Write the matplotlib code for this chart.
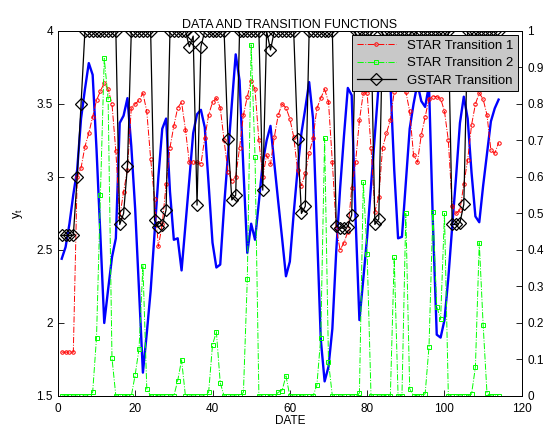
import numpy as np
import matplotlib
matplotlib.use('Agg')
import matplotlib.pyplot as plt

plt.rcParams['font.family'] = ['Liberation Sans', 'DejaVu Sans']
plt.rcParams['mathtext.fontset'] = 'custom'
plt.rcParams['mathtext.rm'] = 'Liberation Sans'

# ---------------- data ----------------
dates = np.arange(1, 115)

# observed series y_t (left axis)
y_t = [2.44, 2.52, 2.68, 2.88, 3.05, 3.40, 3.60, 3.78, 3.70, 3.19,
       2.60, 2.00, 2.23, 2.45, 2.58, 3.37, 3.42, 3.54, 3.21, 2.78,
       2.22, 1.66, 1.93, 2.22, 2.61, 3.00, 3.33, 3.40, 2.90, 2.57,
       2.58, 2.36, 2.67, 2.98, 3.30, 3.43, 3.46, 3.34, 2.95, 2.55,
       2.38, 2.40, 2.80, 3.15, 3.50, 3.84, 3.66, 3.05, 2.48, 2.68,
       2.57, 2.83, 3.10, 3.25, 3.35, 3.09, 2.83, 2.58, 2.32, 2.42,
       2.75, 3.05, 3.30, 3.47, 3.65, 3.40, 2.65, 1.89, 1.60, 1.70,
       1.96, 2.49, 2.92, 3.28, 3.61, 3.56, 2.72, 2.02, 2.30, 2.59,
       2.94, 3.29, 3.64, 3.88, 3.95, 3.65, 3.05, 2.58, 2.59, 2.96,
       3.33, 3.50, 3.64, 3.52, 3.48, 3.63, 2.69, 1.92, 1.90, 2.02,
       2.31, 2.66, 3.00, 3.37, 3.55, 3.40, 3.03, 2.73, 2.69, 2.94,
       3.16, 3.38, 3.47, 3.53]

# STAR transition 1 (right axis)
star1 = [0.12, 0.12, 0.12, 0.12, 0.60, 0.625, 0.683, 0.72, 0.765, 0.81,
         0.835, 0.858, 0.84, 0.80, 0.67, 0.49, 0.56, 0.62, 0.79, 0.80,
         0.81, 0.83, 0.78, 0.65, 0.54, 0.41, 0.47, 0.58, 0.68, 0.74,
         0.79, 0.805, 0.73, 0.64, 0.64, 0.64, 0.635, 0.707, 0.77, 0.805,
         0.816, 0.79, 0.70, 0.615, 0.59, 0.60, 0.68, 0.77, 0.82, 0.864,
         0.84, 0.70, 0.60, 0.66, 0.635, 0.71, 0.77, 0.80, 0.79, 0.76,
         0.71, 0.62, 0.576, 0.61, 0.665, 0.706, 0.788, 0.816, 0.84, 0.806,
         0.64, 0.46, 0.40, 0.42, 0.45, 0.57, 0.64, 0.755, 0.83, 0.83,
         0.68, 0.505, 0.546, 0.68, 0.72, 0.756, 0.834, 0.84, 0.84, 0.834,
         0.78, 0.66, 0.64, 0.715, 0.764, 0.815, 0.82, 0.82, 0.815, 0.78,
         0.70, 0.52, 0.50, 0.51, 0.58, 0.647, 0.742, 0.80, 0.83, 0.813,
         0.77, 0.674, 0.665, 0.694]

# STAR transition 2 (right axis)
star2 = [0.0, 0.0, 0.0, 0.0, 0.0, 0.0, 0.0, 0.0, 0.01, 0.16,
         0.55, 0.925, 0.815, 0.104, 0.0, 0.0, 0.0, 0.0, 0.0, 0.058,
         0.13, 0.357, 0.02, 0.0, 0.0, 0.0, 0.0, 0.0, 0.0, 0.0,
         0.042, 0.099, 0.0, 0.0, 0.0, 0.0, 0.0, 0.0, 0.01, 0.14,
         0.176, 0.036, 0.0, 0.0, 0.0, 0.0, 0.0, 0.01, 0.32, 0.962,
         0.656, 0.0, 0.0, 0.0, 0.0, 0.0, 0.01, 0.015, 0.055, 0.0,
         0.0, 0.0, 0.0, 0.0, 0.0, 0.0, 0.03, 0.16, 0.706, 0.094,
         0.0, 0.0, 0.0, 0.0, 0.0, 0.0, 0.0, 0.008, 0.585, 0.39,
         0.0, 0.0, 0.0, 0.0, 0.0, 0.0, 0.38, 0.0, 0.0, 0.50,
         0.02, 0.0, 0.0, 0.0, 0.006, 0.135, 0.503, 0.245, 0.21, 0.50,
         0.0, 0.0, 0.0, 0.0, 0.0, 0.0, 0.005, 0.079, 0.42, 0.195,
         0.007, 0.0, 0.0, 0.0]

# GSTAR transition (right axis)
gstar = [0.44, 0.44, 0.44, 0.44, 0.60, 0.80, 1.0, 1.0, 1.0, 1.0,
         1.0, 1.0, 1.0, 1.0, 1.0, 0.47, 0.50, 0.63, 1.0, 1.0,
         1.0, 1.0, 1.0, 1.0, 0.482, 0.464, 0.468, 0.51, 1.0, 1.0,
         1.0, 1.0, 1.0, 0.957, 0.986, 0.523, 0.957, 1.0, 1.0, 1.0,
         1.0, 1.0, 1.0, 0.703, 0.537, 0.55, 1.0, 1.0, 1.0, 1.0,
         1.0, 1.0, 0.564, 1.0, 0.948, 1.0, 1.0, 1.0, 1.0, 1.0,
         1.0, 0.705, 0.50, 0.52, 1.0, 1.0, 1.0, 1.0, 1.0, 1.0,
         1.0, 0.466, 0.46, 0.46, 0.464, 0.496, 1.0, 1.0, 1.0, 1.0,
         1.0, 0.47, 0.485, 1.0, 1.0, 1.0, 1.0, 1.0, 1.0, 1.0,
         1.0, 0.97, 1.0, 1.0, 1.0, 1.0, 1.0, 1.0, 1.0, 1.0,
         1.0, 0.47, 0.47, 0.475, 0.525, 1.0, 1.0, 1.0, 1.0, 1.0,
         1.0, 1.0, 1.0, 1.0]

# ---------------- plot (plotyy style) ----------------
fig = plt.figure(figsize=(5.51, 4.34), dpi=100)
ax1 = fig.add_axes([0.105, 0.0876, 0.842, 0.841])
ax2 = ax1.twinx()

ax1.plot(dates, y_t, color=(0, 0, 1), lw=1.7)
ax1.set_xlim(0, 120)
ax1.set_ylim(1.5, 4)
ax1.set_xticks(np.arange(0, 121, 20))
ax1.set_yticks([1.5, 2, 2.5, 3, 3.5, 4])
ax1.set_yticklabels(['1.5', '2', '2.5', '3', '3.5', '4'])
ax1.set_xlabel('DATE', fontsize=8.5, labelpad=0)
ax1.set_ylabel(r'$\mathregular{y_t}$', fontsize=9, labelpad=8)
ax1.set_title('DATA AND TRANSITION FUNCTIONS', fontsize=9, pad=2)

ax2.plot(dates, star1, '-.', color='red', lw=0.7, marker='o', ms=2.5,
         mfc='none', mew=0.7, label='STAR Transition 1')
ax2.plot(dates, star2, '-.', color=(0, 1, 0), lw=0.7, marker='s', ms=3.5,
         mfc='none', mew=0.7, label='STAR Transition 2')
ax2.plot(dates, gstar, '-', color='black', lw=0.9, marker='D', ms=6.3,
         mfc='none', mew=0.9, label='GSTAR Transition')
ax2.set_ylim(0, 1)
ax2.set_yticks(np.arange(0, 1.01, 0.1))
ax2.set_yticklabels(['0', '0.1', '0.2', '0.3', '0.4', '0.5', '0.6', '0.7', '0.8', '0.9', '1'])

for a in (ax1, ax2):
    a.tick_params(direction='in', length=4, width=0.6, labelsize=8.5)
    for s in a.spines.values():
        s.set_linewidth(0.7)
ax1.tick_params(axis='x', pad=5)
ax2.tick_params(axis='y', pad=4)

leg = ax2.legend(loc='upper right', fontsize=9.5, fancybox=False, framealpha=1,
                 edgecolor='black', facecolor='#c8c8c8', borderaxespad=0.3,
                 handlelength=3.0, borderpad=0.35, labelspacing=0.4)
leg.get_frame().set_linewidth(0.7)

fig.savefig('out.png', dpi=100)
